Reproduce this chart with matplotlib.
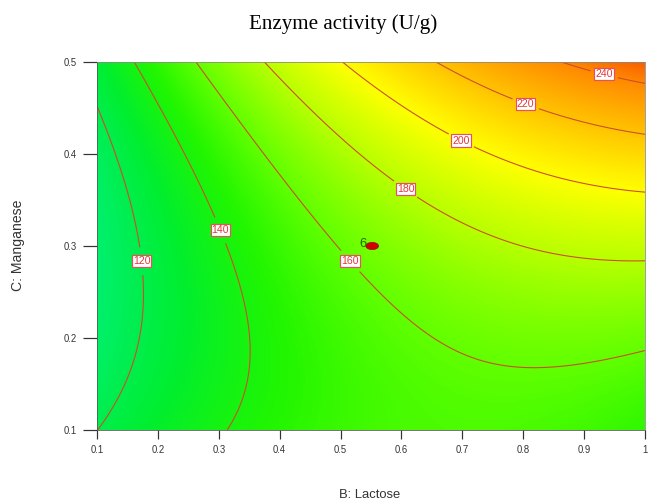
import numpy as np
import matplotlib.pyplot as plt
from matplotlib.colors import LinearSegmentedColormap
from matplotlib.patches import Ellipse

# quadratic model coefficients: Y = b0 + bB*B + bC*C + bBC*B*C + bBB*B^2 + bCC*C^2
b0 = 126.66
bB = 105.86
bC = -227.04
bBC = 260.68
bBB = -91.46
bCC = 364.63

levels = [120, 140, 160, 180, 200, 220, 240]
x_ticks = [0.1, 0.2, 0.3, 0.4, 0.5, 0.6, 0.7, 0.8, 0.9, 1.0]
x_ticklabels = ["0.1", "0.2", "0.3", "0.4", "0.5", "0.6", "0.7", "0.8", "0.9", "1"]
y_ticks = [0.1, 0.2, 0.3, 0.4, 0.5]
design_point = (0.552, 0.3)
design_count = "6"

# colour stops (response value -> colour)
stop_values = [105, 128, 145, 160, 180, 200, 220, 240, 252]
stop_colors = ["#00f07a", "#00ee30", "#22f600", "#62ff00", "#b8ff00", "#ffff00",
               "#ffc400", "#ff8a00", "#f65400"]

B = np.linspace(0.1, 1.0, 300)
C = np.linspace(0.1, 0.5, 300)
BB, CC = np.meshgrid(B, C)
Y = b0 + bB * BB + bC * CC + bBC * BB * CC + bBB * BB**2 + bCC * CC**2

vmin, vmax = stop_values[0], stop_values[-1]
cmap = LinearSegmentedColormap.from_list(
    "de", [((v - vmin) / (vmax - vmin), c) for v, c in zip(stop_values, stop_colors)])

fig = plt.figure(figsize=(9, 7), dpi=72)
ax = fig.add_axes([97 / 648, 1 - 430 / 504, 548 / 648, 368 / 504])

ax.imshow(Y, origin="lower", extent=[0.1, 1.0, 0.1, 0.5], aspect="auto",
          cmap=cmap, vmin=vmin, vmax=vmax, interpolation="bilinear")
cs = ax.contour(BB, CC, Y, levels=levels, colors="#cc4e28", linewidths=1.1)
label_pos = [(0.166, 0.283), (0.299, 0.316), (0.515, 0.283), (0.609, 0.364),
             (0.70, 0.417), (0.806, 0.458), (0.934, 0.49)]
labels = ax.clabel(cs, fmt="%d", fontsize=10.5, inline=True, inline_spacing=4,
                   manual=label_pos, colors="#e03a3a")
for t in labels:
    t.set_rotation(0)
    t.set_fontfamily("Liberation Sans")
    t.set_bbox(dict(facecolor="white", edgecolor="#e8505a", linewidth=1.2, pad=1.0))

ax.add_patch(Ellipse(design_point, 0.021, 0.0078, facecolor="#d40000",
                     edgecolor="#900000", linewidth=0.6, zorder=5))
ax.text(design_point[0] - 0.009, design_point[1] + 0.002, design_count,
        color="#1e6e00", fontsize=13, ha="right", va="center",
        family="Liberation Sans", zorder=5)

ax.set_xlim(0.1, 1.0)
ax.set_ylim(0.1, 0.5)
ax.set_xticks(x_ticks)
ax.set_xticklabels(x_ticklabels)
ax.set_yticks(y_ticks)
ax.set_yticklabels([f"{v:g}" for v in y_ticks])
ax.tick_params(axis="x", length=9, width=1.2, pad=6, labelsize=9.5, colors="#333333")
ax.tick_params(axis="y", length=14, width=1.2, pad=6, labelsize=9.5, colors="#333333")
for lab in ax.get_xticklabels() + ax.get_yticklabels():
    lab.set_fontfamily("Liberation Sans")
for s in ["left", "bottom"]:
    ax.spines[s].set_color("#555555")
for s in ["top", "right"]:
    ax.spines[s].set_color("#888888")
    ax.spines[s].set_linewidth(0.8)

fig.text(343 / 648, 1 - 24 / 504, "Enzyme activity (U/g)", ha="center", va="center",
         fontsize=21, family="Liberation Serif")
fig.text(370 / 648, 1 - 495 / 504, "B: Lactose", ha="center", va="center",
         fontsize=13, family="Liberation Sans", color="#333333")
fig.text(18 / 648, 1 - 245 / 504, "C: Manganese", ha="center", va="center",
         rotation=90, fontsize=14, family="Liberation Sans", color="#333333")

fig.savefig("out.png", dpi=72)
